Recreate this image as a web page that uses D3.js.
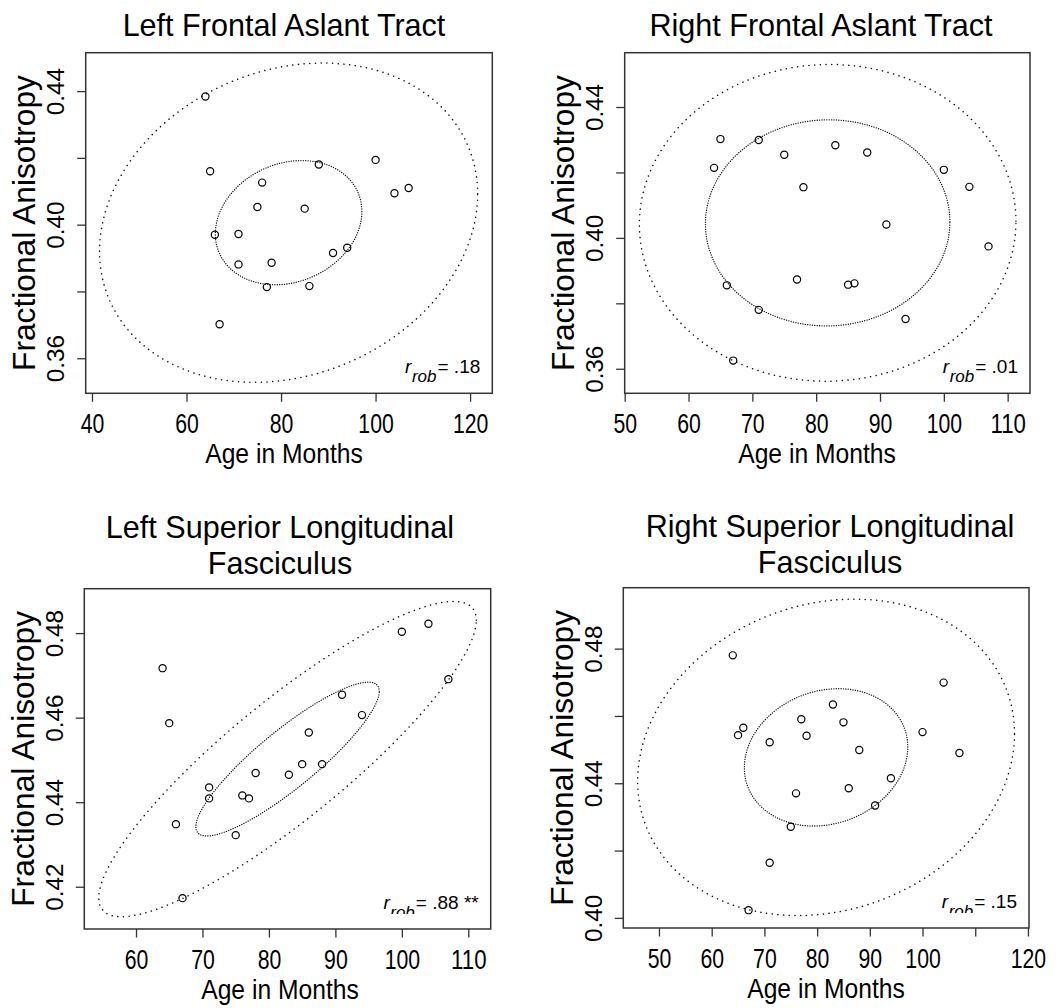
<!DOCTYPE html>
<html><head><meta charset="utf-8">
<script src="https://cdn.jsdelivr.net/npm/d3@7"></script>
<style>
body{margin:0;background:#fff}
svg{display:block}
text{font-family:"Liberation Sans",Arial,Helvetica,sans-serif;fill:#000}
</style>
</head><body>
<svg id="chart" width="1061" height="1008"></svg>
<script>
// ---------- data ----------
const titles = [
  ["Left Frontal Aslant Tract"],
  ["Right Frontal Aslant Tract"],
  ["Left Superior Longitudinal", "Fasciculus"],
  ["Right Superior Longitudinal", "Fasciculus"]
];
const xLabel = "Age in Months";
const yLabel = "Fractional Anisotropy";

const ageLFAT = [64,65,66,67,71,71,75,76,77,78,85,86,88,91,94,100,104,107];
const faLFAT  = [0.4384,0.4160,0.3970,0.3702,0.3972,0.3881,0.4053,0.4126,0.3813,0.3886,0.4048,0.3816,0.4180,0.3915,0.3931,0.4194,0.4094,0.4110];

const ageRFAT = [64,65,66,67,71,71,75,77,78,83,85,86,88,91,94,100,104,107];
const faRFAT  = [0.4214,0.4302,0.3855,0.3625,0.4299,0.3780,0.4254,0.3873,0.4155,0.4283,0.3857,0.3861,0.4261,0.4041,0.3752,0.4208,0.4156,0.3974];

const ageLSLF = [64,65,66,67,71,71,75,76,77,78,83,85,86,88,91,94,100,104,107];
const faLSLF  = [0.4717,0.4587,0.4348,0.4173,0.4435,0.4409,0.4322,0.4416,0.4409,0.4469,0.4465,0.4490,0.4565,0.4490,0.4654,0.4606,0.4803,0.4822,0.4691];

const ageRSLF = [64,65,66,67,71,71,75,76,77,78,83,85,86,88,91,94,100,104,107];
const faRSLF  = [0.4780,0.4543,0.4565,0.4023,0.4522,0.4164,0.4271,0.4370,0.4590,0.4541,0.4634,0.4581,0.4385,0.4499,0.4334,0.4415,0.4552,0.4699,0.4490];

const xDomains = [[38.67,124.7],[50,113.5],[52.22,113.37],[43.23,120.2]];
const yDomains = [[0.3495,0.4515],[0.3525,0.4566],[0.41,0.4905],[0.397,0.4981]];

const xTicks = [[40,60,80,100,120],[50,60,70,80,90,100,110],[60,70,80,90,100,110],[50,60,70,80,90,100,110,120]];
const xTickLabels = [["40","60","80","100","120"],["50","60","70","80","90","100","110"],["60","70","80","90","100","110"],["50","60","70","80","90","100","","120"]];
const yTicks = [[0.36,0.38,0.40,0.42,0.44],[0.36,0.38,0.40,0.42,0.44],[0.42,0.44,0.46,0.48],[0.40,0.42,0.44,0.46,0.48]];
const yTickLabels = [["0.36","","0.40","","0.44"],["0.36","","0.40","","0.44"],["0.42","0.44","0.46","0.48"],["0.40","","0.44","","0.48"]];

// robust ellipses: centre, half-extents (inner / outer), correlation
const ellCX    = [81.6, 81.8, 82.8, 81.7];
const ellCY    = [0.4006, 0.4046, 0.4502, 0.4477];
const innerHX  = [15.5, 19.15, 13.8, 15.5];
const innerHY  = [0.0186, 0.0315, 0.0182, 0.0204];
const outerHX  = [40.0, 29.5, 28.4, 35.75];
const outerHY  = [0.0478, 0.0484, 0.0373, 0.0470];
const ellR     = [0.18, 0.01, 0.88, 0.15];
const rrobText = [".18", ".01", ".88 **", ".15"];

// ---------- layout ----------
const ages = [ageLFAT, ageRFAT, ageLSLF, ageRSLF];
const fas  = [faLFAT, faRFAT, faLSLF, faRSLF];
const boxes = [
  {l:85.7, t:52.7, r:492.3, b:393.3, tc:284, xc:284},
  {l:624.7,t:52.7, r:1030,  b:393.3, tc:821, xc:817},
  {l:84.3, t:588.7,r:490.7, b:929,   tc:280, xc:280},
  {l:623.3,t:587.7,r:1029,  b:928,   tc:830, xc:826}
];

const svg = d3.select("#chart");
const defs = svg.append("defs");

function fit(sel, factor){
  sel.each(function(){
    const t = this.textContent;
    if(!t) return;
    const w = this.getComputedTextLength();
    d3.select(this).attr("textLength", w*factor).attr("lengthAdjust","spacingAndGlyphs");
  });
}
function fixLen(sel, perChar){
  sel.each(function(){
    const t = this.textContent;
    if(!t) return;
    d3.select(this).attr("textLength", t.length*perChar).attr("lengthAdjust","spacingAndGlyphs");
  });
}

boxes.forEach((bx, i) => {
  const x = d3.scaleLinear().domain(xDomains[i]).range([bx.l, bx.r]);
  const y = d3.scaleLinear().domain(yDomains[i]).range([bx.b, bx.t]);
  const g = svg.append("g");

  // titles
  const tl = titles[i];
  tl.forEach((line, k) => {
    const base = tl.length === 1 ? bx.t - 16.7 : bx.t - 50.5 + k*36;
    g.append("text").attr("x", bx.tc).attr("y", base)
      .attr("text-anchor","middle").style("font-size","32px").text(line)
      .call(fit, 0.955);
  });

  // ellipses
  const make = (hx, hy) => {
    const r = ellR[i], s = Math.sqrt(1 - r*r);
    const pts = d3.range(0, 361, 1).map(a => {
      const t = a*Math.PI/180;
      return [ellCX[i] + hx*Math.cos(t), ellCY[i] + hy*(r*Math.cos(t) + s*Math.sin(t))];
    });
    return d3.line().x(d => x(d[0])).y(d => y(d[1]))(pts);
  };
  g.append("path").attr("d", make(outerHX[i], outerHY[i]))
    .attr("fill","none").attr("stroke","#111").attr("stroke-width",1.5)
    .attr("stroke-linecap","round").attr("stroke-dasharray","0.1 5.6");
  g.append("path").attr("d", make(innerHX[i], innerHY[i]))
    .attr("fill","none").attr("stroke","#111").attr("stroke-width",1.3)
    .attr("stroke-linecap","round").attr("stroke-dasharray","0.1 2.3");

  // points
  g.append("g").selectAll("circle").data(ages[i].map((a, j) => [a, fas[i][j]]))
    .join("circle").attr("cx", d => x(d[0])).attr("cy", d => y(d[1])).attr("r", 3.6)
    .attr("fill","none").attr("stroke","#000").attr("stroke-width",1.2);

  // box
  g.append("rect").attr("x", bx.l).attr("y", bx.t).attr("width", bx.r - bx.l).attr("height", bx.b - bx.t)
    .attr("fill","none").attr("stroke","#333").attr("stroke-width",1.5);

  // x axis
  const xa = g.append("g").attr("transform", `translate(0,${bx.b})`)
    .call(d3.axisBottom(x).tickValues(xTicks[i]).tickSize(8.5).tickFormat((d, k) => xTickLabels[i][k]));
  xa.select(".domain").remove();
  xa.selectAll("line").attr("stroke","#333").attr("stroke-width",1.3);
  xa.selectAll("text").attr("y", 40).attr("dy", null).attr("fill","#000")
    .attr("font-size", 28).attr("font-family",'"Liberation Sans",Arial,sans-serif')
    .style("font-size","28px")
    .call(fixLen, 11.8);

  // y axis
  const ya = g.append("g").attr("transform", `translate(${bx.l},0)`)
    .call(d3.axisLeft(y).tickValues(yTicks[i]).tickSize(8.5).tickFormat((d, k) => yTickLabels[i][k]));
  ya.select(".domain").remove();
  ya.selectAll("line").attr("stroke","#333").attr("stroke-width",1.3);
  ya.selectAll("text").attr("x", 0).attr("dy", null).attr("text-anchor","middle")
    .attr("transform","translate(-21.7,0) rotate(-90)").attr("fill","#000")
    .attr("font-size", 23).attr("font-family",'"Liberation Sans",Arial,sans-serif')
    .style("font-size","23px")
    .call(fixLen, 11.8);

  // axis labels
  g.append("text").attr("x", bx.xc).attr("y", bx.b + 70).attr("text-anchor","middle")
    .style("font-size","28px").text(xLabel).call(fit, 0.88);
  g.append("text").attr("text-anchor","middle")
    .attr("transform", `translate(${bx.l - 50.5},${(bx.t + bx.b)/2}) rotate(-90)`)
    .style("font-size","32px").text(yLabel).call(fit, 0.99);

  // r_rob annotation
  const cid = "clip" + i;
  defs.append("clipPath").attr("id", cid).append("rect")
    .attr("x", bx.l).attr("y", bx.t).attr("width", bx.r - bx.l)
    .attr("height", (i >= 2 ? bx.b - 15 : bx.b) - bx.t);
  const ann = g.append("text").attr("clip-path", `url(#${cid})`)
    .attr("x", bx.r - 12).attr("y", bx.b - 20).attr("text-anchor","end");
  ann.append("tspan").style("font-style","italic").style("font-size","19px").text("r");
  ann.append("tspan").style("font-style","italic").style("font-size","17px").attr("dy", 8.5).attr("dx", 0.5).text("rob");
  ann.append("tspan").style("font-size","19px").attr("dy", -8.5).attr("dx", 1).text("= " + rrobText[i]);
});
</script>
</body></html>
